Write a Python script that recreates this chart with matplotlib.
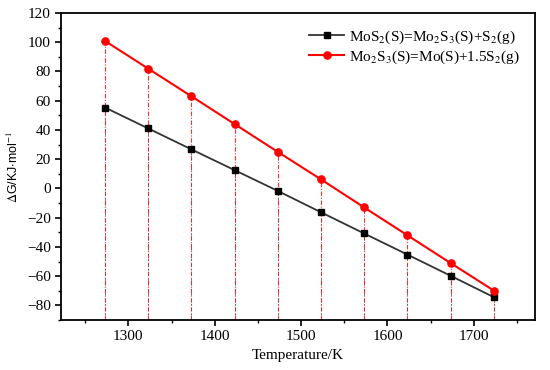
import matplotlib.pyplot as plt
import numpy as np
from matplotlib.ticker import MultipleLocator

plt.rcParams['font.family'] = ['Liberation Serif', 'DejaVu Serif']
plt.rcParams['mathtext.fontset'] = 'stix'

temperature = [1273, 1323, 1373, 1423, 1473, 1523, 1573, 1623, 1673, 1723]
dg_mos2 = [55.3, 41.0, 26.7, 12.5, -1.7, -16.3, -30.8, -45.2, -59.7, -74.3]
dg_mo2s3 = [100.8, 81.9, 63.0, 44.0, 25.0, 6.2, -13.0, -32.0, -51.0, -69.8]

label_mos2 = r'MoS$_2$(S)=Mo$_2$S$_3$(S)+S$_2$(g)'
label_mo2s3 = r'Mo$_2$S$_3$(S)=Mo(S)+1.5S$_2$(g)'

fig = plt.figure(figsize=(5.5, 3.7), dpi=100)
ax = fig.add_axes([0.111, 0.135, 0.862, 0.83])

ymin = -90
# drop lines from each point down to the x axis
ax.vlines(temperature, ymin, dg_mo2s3, colors='#ff3030', linestyles=(0, (4, 1.5, 1, 1.5)),
          linewidth=0.8, zorder=1)
ax.vlines(temperature, ymin, dg_mos2, colors='#555555', linestyles=(0, (2, 4)),
          linewidth=0.6, zorder=1)

ax.plot(temperature, dg_mos2, color='#333333', marker='s', markersize=4.5,
        markerfacecolor='black', markeredgecolor='black', linewidth=1.3,
        label=label_mos2, zorder=3)
ax.plot(temperature, dg_mo2s3, color='#ff0000', marker='o', markersize=5.2,
        linewidth=1.5, label=label_mo2s3, zorder=3)

ax.set_xlim(1222, 1771)
ax.set_ylim(ymin, 120)
ax.xaxis.set_major_locator(MultipleLocator(100))
ax.xaxis.set_minor_locator(MultipleLocator(50))
ax.yaxis.set_major_locator(MultipleLocator(20))
ax.yaxis.set_minor_locator(MultipleLocator(10))
ax.tick_params(which='major', direction='out', length=4, width=1.2, labelsize=11)
ax.tick_params(which='minor', direction='out', length=2.5, width=1.0)
for s in ax.spines.values():
    s.set_linewidth(1.3)

ax.set_xlabel('Temperature/K', fontsize=11)
ax.set_ylabel(r'$\Delta$G/KJ$\cdot$mol$^{-1}$', fontsize=9, family='Liberation Sans')

ax.legend(loc='upper right', frameon=False, fontsize=11, handlelength=2.3,
          handletextpad=0.3, labelspacing=0.2, borderaxespad=0.6)

fig.savefig('out.png', dpi=100)
